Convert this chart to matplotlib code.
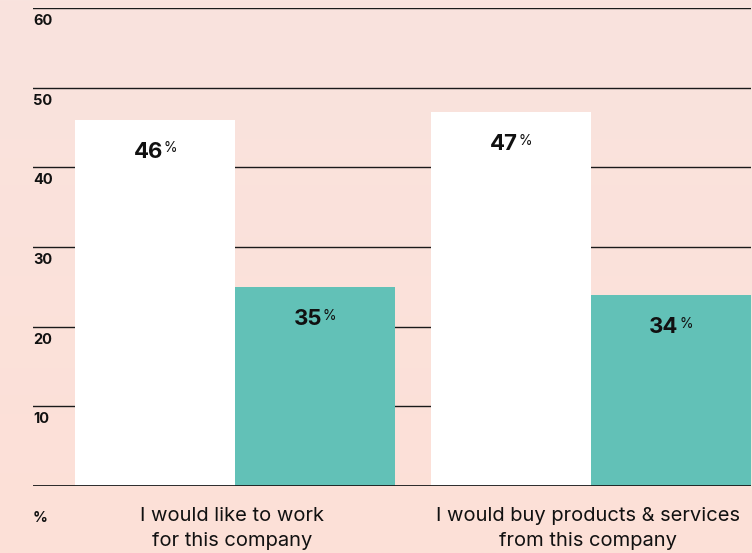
import numpy as np
import matplotlib.pyplot as plt

plt.rcParams['font.family'] = ['Inter', 'DejaVu Sans']

categories = ["I would like to work\nfor this company",
              "I would buy products & services\nfrom this company"]
# bar heights as drawn in the chart, and the labels printed on them
white_vals = [46, 47]
teal_vals = [25, 24]
white_labels = ["46", "47"]
teal_labels = ["35", "34"]
yticks = [10, 20, 30, 40, 50, 60]

bg_top = np.array([249, 227, 222]) / 255
bg_bot = np.array([253, 224, 215]) / 255
teal = "#62c1b7"

fig = plt.figure(figsize=(7.52, 5.53), dpi=100)

# soft vertical gradient behind everything
bg = fig.add_axes([0, 0, 1, 1], zorder=-10)
grad = np.linspace(0, 1, 256)[:, None, None]
img = bg_top * (1 - grad) + bg_bot * grad
bg.imshow(img, aspect="auto", extent=[0, 1, 0, 1])
bg.axis("off")

ax = fig.add_axes([33 / 752, 67 / 553, 718 / 752, 478 / 553])
ax.patch.set_alpha(0)

x = np.arange(len(categories))
w = 0.449
ax.bar(x - w / 2, white_vals, w, color="white", zorder=2)
ax.bar(x + w / 2, teal_vals, w, color=teal, zorder=2)

for y in yticks:
    ax.axhline(y, color="#1a1a1a", lw=1.0, zorder=1)
    ax.text(0, y - 0.75, str(y), transform=ax.get_yaxis_transform(),
            ha="left", va="top", fontsize=10.5, fontweight="bold", color="#111111")
ax.axhline(0, color="#1a1a1a", lw=1.3, zorder=3)

def put_label(xpos, top, txt, gap):
    t = ax.annotate(txt, xy=(xpos, top), xytext=(-5, -gap), textcoords="offset points",
                    ha="center", va="center", fontsize=16, fontweight="bold",
                    color="#111111", zorder=4)
    ax.annotate("%", xy=(1, 1), xycoords=t, xytext=(0.3, 0.5), textcoords="offset points",
                ha="left", va="top", fontsize=10, color="#111111", zorder=4)

for i in range(len(categories)):
    put_label(x[i] - w / 2, white_vals[i], white_labels[i], 23.5)
    put_label(x[i] + w / 2, teal_vals[i], teal_labels[i], 23.5)

for i, c in enumerate(categories):
    ax.text(x[i] - 0.008, -2.65, c, ha="center", va="top", fontsize=14.5,
            color="#111111", linespacing=1.5)
ax.text(0, -3.1, "%", transform=ax.get_yaxis_transform(), ha="left", va="top",
        fontsize=10.5, fontweight="bold", color="#111111")

ax.set_xlim((33 - 235) / 356, (751 - 235) / 356)
ax.set_ylim(0, 60)
ax.axis("off")

fig.savefig("out.png", dpi=100)
